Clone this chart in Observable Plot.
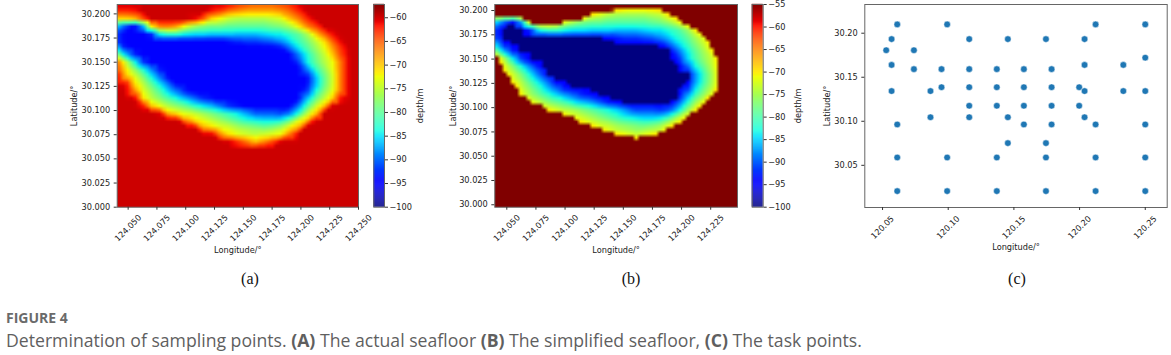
<!DOCTYPE html>
<html><head><meta charset="utf-8">
<script src="https://cdn.jsdelivr.net/npm/d3@7"></script>
<script src="https://cdn.jsdelivr.net/npm/@observablehq/plot@0.6"></script>
<style>
html,body{margin:0;padding:0;background:#fff;width:1171px;height:355px;overflow:hidden}
.abs{position:absolute}
.panel{font-family:"Liberation Serif",serif;font-size:16px;color:#111;line-height:18px;transform:translateX(-50%)}
.fig{font-family:"Open Sans",sans-serif;font-weight:700;font-size:14px;color:#6a6a6a;left:6px;top:310px;line-height:16px}
.cap{font-family:"Open Sans",sans-serif;font-size:17.65px;color:#5f5f5f;left:6px;top:329px;line-height:22px;white-space:nowrap}
.cap b{font-weight:700}
</style></head><body>
<div id="root"></div>
<script>
// Depth grid. Missing values on the right of a row are -60.
const longitudes = [124.04,124.0475,124.055,124.0625,124.07,124.0775,124.085,124.0925,124.1,124.1075,124.115,124.1225,124.13,124.1375,124.145,124.1525,124.16,124.1675,124.175,124.1825,124.19,124.1975,124.205,124.2125,124.22,124.2275,124.235,124.2425,124.25];
const latitudes = [30.21,30.2025,30.195,30.1875,30.18,30.1725,30.165,30.1575,30.15,30.1425,30.135,30.1275,30.12,30.1125,30.105,30.0975,30.09,30.0825,30.075,30.0675,30.06,29.995];
const depthRows = [
[-60,-60,-60,-60,-60,-60,-60,-60,-60,-60,-60,-60,-60,-61,-63,-64,-65,-65,-65,-64,-63,-61],
[-63,-63,-62,-60,-60,-60,-60,-60,-60,-60,-60,-62,-64,-67,-68,-69,-69,-69,-69,-68,-66,-63],
[-71,-71,-70,-65,-60,-60,-60,-60,-60,-61,-65,-71,-73,-75,-76,-76,-76,-76,-75,-74,-70,-67,-63],
[-85,-91,-95,-88,-71,-66,-66,-68,-73,-76,-78,-79,-79,-80,-80,-80,-80,-80,-79,-78,-76,-72,-67,-64],
[-92,-95,-95,-95,-93,-83,-81,-81,-83,-84,-84,-85,-85,-85,-86,-86,-86,-85,-84,-84,-82,-80,-76,-70,-65,-61],
[-92,-95,-95,-95,-95,-95,-95,-95,-95,-95,-95,-95,-95,-94,-93,-92,-92,-91,-90,-88,-85,-82,-79,-75,-71,-65,-60.5],
[-85,-94,-95,-95,-95,-95,-95,-95,-95,-95,-95,-95,-95,-95,-95,-95,-95,-95,-95,-94,-90,-85,-81,-77,-73,-68,-63],
[-76,-86,-93,-95,-95,-95,-95,-95,-95,-95,-95,-95,-95,-95,-95,-95,-95,-95,-95,-95,-95,-90,-84,-79,-75,-70,-64],
[-65,-74,-83,-92,-95,-95,-95,-95,-95,-95,-95,-95,-95,-95,-95,-95,-95,-95,-95,-95,-95,-93,-85,-80,-76,-72.5,-66],
[-64,-71,-77,-83,-89,-94,-95,-95,-95,-95,-95,-95,-95,-95,-95,-95,-95,-95,-95,-95,-95,-95,-90,-83,-78,-73,-66],
[-60,-69,-73,-78,-84,-90,-95,-95,-95,-95,-95,-95,-95,-95,-95,-95,-95,-95,-95,-95,-95,-95,-95,-87,-80,-74,-66],
[-60,-61,-71,-75,-80,-85,-90,-95,-95,-95,-95,-95,-95,-95,-95,-95,-95,-95,-95,-95,-95,-95,-95,-87,-80,-74,-66],
[-60,-60,-67,-73,-77,-81,-86,-90,-94,-95,-95,-95,-95,-95,-95,-95,-95,-95,-95,-95,-95,-95,-93,-84,-78,-73,-66],
[-60,-60,-60,-71,-75,-78,-81,-84,-87,-90,-93,-94,-95,-95,-95,-95,-95,-95,-95,-95,-95,-95,-87,-80,-75,-70,-61],
[-60,-60,-60,-62,-70,-73,-76,-78,-80,-83,-85,-87,-90,-93,-94,-95,-95,-95,-95,-95,-95,-90,-82,-75,-70,-60.5],
[-60,-60,-60,-60,-60,-61,-70,-72,-74,-75,-77,-79,-81,-83,-85,-88,-91,-91,-91,-92,-90,-84,-76,-70,-60],
[-60,-60,-60,-60,-60,-60,-60,-60,-68,-71,-73,-75,-77,-79,-81,-83,-84,-85,-85,-84,-80,-74,-70,-60.5],
[-60,-60,-60,-60,-60,-60,-60,-60,-60,-60,-69,-71,-73,-74,-76,-77,-78,-79,-78,-76,-72,-69,-60],
[-60,-60,-60,-60,-60,-60,-60,-60,-60,-60,-60,-60,-67,-71,-73,-74,-75,-74,-73,-72,-66,-60],
[-60,-60,-60,-60,-60,-60,-60,-60,-60,-60,-60,-60,-60,-60,-63,-66,-69.5,-67,-64],
[],
[]
];
// Task points, panel (c)
const taskLon = [120.0612,120.0992,120.2122,120.25, 120.0569,120.116,120.1454,120.1744,120.2038, 120.0528,120.0739, 120.25, 120.0569,120.2038,120.2333, 120.0739,120.0949,120.116,120.137,120.1576,120.1787, 120.0949,120.116,120.137,120.1576,120.1787,120.1997, 120.0569,120.0865,120.2038,120.2333,120.25, 120.116,120.137,120.1576,120.1787,120.1997, 120.0865,120.116,120.1454,120.2038, 120.0612,120.1576,120.1787,120.2122,120.25, 120.1454,120.1744, 120.0612,120.0992,120.137,120.1744,120.2122,120.25, 120.0612,120.0992,120.137,120.1744,120.2122,120.25];
const taskLat = [30.21,30.21,30.21,30.21, 30.1933,30.1933,30.1933,30.1933,30.1933, 30.1807,30.1807, 30.1722, 30.164,30.164,30.164, 30.1592,30.1592,30.1592,30.1592,30.1592,30.1592, 30.1387,30.1387,30.1387,30.1387,30.1387,30.1387, 30.1343,30.1343,30.1343,30.1343,30.1343, 30.1176,30.1176,30.1176,30.1176,30.1176, 30.1046,30.1046,30.1046,30.1046, 30.0964,30.0964,30.0964,30.0964,30.0964, 30.0752,30.0752, 30.0589,30.0589,30.0589,30.0589,30.0589,30.0589, 30.0207,30.0207,30.0207,30.0207,30.0207,30.0207];
const ticksLatMap = [30,30.025,30.05,30.075,30.1,30.125,30.15,30.175,30.2];
const ticksLonA = [124.05,124.075,124.1,124.125,124.15,124.175,124.2,124.225,124.25];
const ticksLonB = [124.05,124.075,124.1,124.125,124.15,124.175,124.2,124.225];
const ticksLonC = [120.05,120.1,120.15,120.2,120.25];
const ticksLatC = [30.05,30.1,30.15,30.2];
const ticksBarA = [-100,-95,-90,-85,-80,-75,-70,-65,-60];
const ticksBarB = [-100,-95,-90,-85,-80,-75,-70,-65,-60,-55];

// matplotlib "jet" colormap stops
const jetT = [0,.11,.125,.34,.35,.375,.64,.65,.66,.89,.91,1];
const jetC = ["#000080","#0000ff","#0000ff","#00dbff","#00e6f7","#15ffe2","#efff08","#f7f500","#ffec00","#ff1300","#e80000","#800000"];
const jetDomain = (lo,hi)=>jetT.map(t=>lo+t*(hi-lo));

const grid = latitudes.flatMap((lat,j)=>longitudes.map((lon,i)=>({lon,lat,depth:depthRows[j][i] ?? -60})));
const task = taskLon.map((lon,i)=>({lon,lat:taskLat[i]}));

const root = document.getElementById("root");
const SVGH = 265, fs = {fontFamily:"'DejaVu Sans',sans-serif",fontSize:"8.2px",color:"#222",background:"transparent",overflow:"visible"};
function place(el,left){el.classList.add("abs");el.style.left=left+"px";el.style.top="0";root.appendChild(el);}

function panel({left,width,fl,fr,top,bottom,xDomain,yDomain,xTicks,yTicks,xFmt,yFmt,marks,color,labelX,labelY,xPad,yPad}){
  place(Plot.plot({
    width,height:SVGH,
    marginLeft:fl-left,marginRight:left+width-fr,marginTop:top,marginBottom:SVGH-bottom,
    style:fs,
    x:{domain:xDomain},y:{domain:yDomain},
    color,
    marks:[
      ...marks,
      Plot.frame({stroke:"#666",strokeWidth:1}),
      Plot.axisX({ticks:xTicks,tickFormat:d3.format(xFmt),tickSize:3,tickPadding:xPad,tickRotate:-45,textAnchor:"middle",lineAnchor:"middle",fill:"#222",stroke:"#333",
        label:"Longitude/°",labelAnchor:"center",labelArrow:"none",labelOffset:labelX}),
      Plot.axisY({ticks:yTicks,tickFormat:d3.format(yFmt),tickSize:3,tickPadding:yPad,fill:"#222",stroke:"#333",
        label:"Latitude/°",labelAnchor:"center",labelArrow:"none",labelOffset:labelY})
    ]
  }),left);
}
function colorbar({left,width,fl,fr,lo,hi,ticks,labelOffset}){
  const step=(hi-lo)/200;
  place(Plot.plot({
    width,height:SVGH,
    marginLeft:fl-left,marginRight:left+width-fr,marginTop:4,marginBottom:SVGH-206.7,
    style:fs,
    x:{domain:[0,1],axis:null},y:{domain:[lo,hi]},
    color:{type:"linear",domain:jetDomain(lo,hi),range:jetC},
    marks:[
      Plot.rect(d3.range(200).map(i=>lo+i*step),{x1:0,x2:1,y1:d=>d,y2:d=>d+step*1.2,fill:d=>d}),
      Plot.frame({stroke:"#666",strokeWidth:1}),
      Plot.axisY({anchor:"right",ticks,tickSize:3,tickPadding:2,fill:"#222",stroke:"#333",tickFormat:d=>"\u2212"+Math.abs(d),
        label:"depth/m",labelAnchor:"center",labelArrow:"none",labelOffset})
    ]
  }),left);
}

// (a)
panel({left:60,width:310,fl:116.7,fr:358,top:4,bottom:206.7,
  xDomain:[124.0405,124.25],yDomain:[30,30.2097],xTicks:ticksLonA,yTicks:ticksLatMap,xFmt:".3f",yFmt:".3f",labelX:46,labelY:46,xPad:18,yPad:4,
  color:{type:"linear",domain:jetDomain(-100,-57.2),range:jetC},
  marks:[Plot.raster(grid,{x:"lon",y:"lat",fill:"depth",interpolate:"barycentric",pixelSize:4})]});
colorbar({left:365,width:70,fl:373.3,fr:384,lo:-100,hi:-57.2,ticks:ticksBarA,labelOffset:38});

// (b): same seafloor, everything above -70 m set to -55 m and below -95 m to -100 m
const bLo=-100,bHi=-55;
const bStops=jetDomain(bLo,bHi);
const bDomain=[-100,-94.6,-94.59,...bStops.filter(v=>v>-94.59&&v<-70),-70,-69.99,-55];
const jetAt=d3.scaleLinear().domain(bStops).range(jetC).clamp(true);
const bRange=bDomain.map(v=>v<=-94.6?"#000080":v>-70?"#800000":jetAt(v));
panel({left:440,width:310,fl:494.3,fr:737,top:4,bottom:206.7,
  xDomain:[124.0397,124.248],yDomain:[29.9975,30.2062],xTicks:ticksLonB,yTicks:ticksLatMap,xFmt:".3f",yFmt:".3f",labelX:46,labelY:45,xPad:18,yPad:4,
  color:{type:"linear",domain:bDomain,range:bRange},
  marks:[Plot.raster(grid,{x:"lon",y:"lat",fill:"depth",interpolate:"barycentric",pixelSize:4})]});
colorbar({left:743,width:70,fl:751.7,fr:762.7,lo:bLo,hi:bHi,ticks:ticksBarB,labelOffset:38});

// (c)
panel({left:815,width:356,fl:864.3,fr:1166.7,top:4,bottom:207,
  xDomain:[120.0365,120.2667],yDomain:[30.0021,30.2326],xTicks:ticksLonC,yTicks:ticksLatC,xFmt:".2f",yFmt:".2f",labelX:42,labelY:41,xPad:17,yPad:4,
  marks:[Plot.dot(task,{x:"lon",y:"lat",r:3.3,fill:"#1f77b4",stroke:"#fff",strokeWidth:0.5})]});

// panel letters and caption
for(const [t,x] of [["(a)",250],["(b)",631],["(c)",1017]]){
  const d=document.createElement("div");d.className="abs panel";d.textContent=t;d.style.left=x+"px";d.style.top="270px";document.body.appendChild(d);
}
const f=document.createElement("div");f.className="abs fig";f.textContent="FIGURE 4";document.body.appendChild(f);
const c=document.createElement("div");c.className="abs cap";
c.innerHTML="Determination of sampling points. <b>(A)</b> The actual seafloor <b>(B)</b> The simplified seafloor, <b>(C)</b> The task points.";
document.body.appendChild(c);
</script>
</body></html>
